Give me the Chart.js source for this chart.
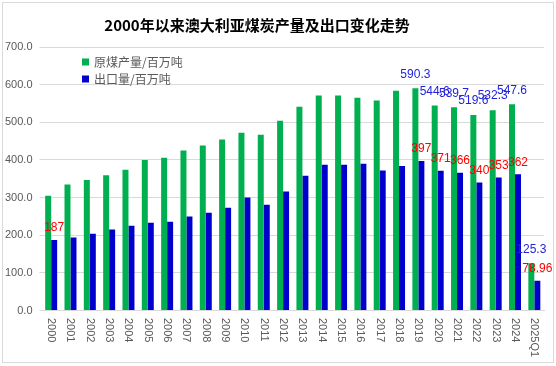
<!DOCTYPE html>
<html>
<head>
<meta charset="utf-8">
<script src="https://cdn.jsdelivr.net/npm/chart.js@4.4.1/dist/chart.umd.min.js"></script>
<style>
  body { margin: 0; background: #fff; }
  #wrap { width: 556px; height: 366px; position: relative; }
</style>
</head>
<body>
<div id="wrap"><canvas id="canvas"></canvas></div>
<script>
// dados do grafico
var anos = ['2000','2001','2002','2003','2004','2005','2006','2007','2008','2009','2010','2011','2012',
            '2013','2014','2015','2016','2017','2018','2019','2020','2021','2022','2023','2024','2025Q1'];
var producao = [305, 335, 347, 359, 374, 400, 406, 425, 438, 454, 472, 467, 504,
                541, 571, 571, 565, 558, 584, 590.3, 544.6, 539.7, 519.6, 532.3, 547.6, 125.3];
var exportacao = [187, 194, 204, 215, 225, 233, 236, 250, 260, 273, 300, 281, 316,
                  358, 387, 387, 390, 372, 384, 397, 371, 366, 340, 353, 362, 78.96];
var yTicks = [0, 100, 200, 300, 400, 500, 600, 700];
// quais barras tem rotulo
var rotuloProducao = [19, 20, 21, 22, 23, 24, 25];
var rotuloExportacao = [0, 19, 20, 21, 22, 23, 24, 25];

var titulo = '2000年以来澳大利亚煤炭产量及出口变化走势';
var nomeProducao = '原煤产量/百万吨';
var nomeExportacao = '出口量/百万吨';

var verde = '#00B050';
var azul = '#0000CC';
var fonteNum = '"Liberation Sans", Arial, sans-serif';
var fonteCJK = '"Noto Sans CJK SC", "Liberation Sans", sans-serif';

var extras = {
  id: 'extras',
  afterDraw: function(chart) {
    var ctx = chart.ctx;
    var xs = chart.scales.x;
    var area = chart.chartArea;
    ctx.save();

    // moldura
    ctx.strokeStyle = '#d9d9d9';
    ctx.lineWidth = 1;
    ctx.strokeRect(2.5, 2.5, 551, 360);

    // titulo
    ctx.fillStyle = '#000';
    ctx.font = 'bold 15px ' + fonteCJK;
    ctx.textAlign = 'center';
    ctx.textBaseline = 'middle';
    ctx.fillText(titulo, 257, 25);

    // legenda
    var itens = [[nomeProducao, verde], [nomeExportacao, azul]];
    ctx.font = '12px ' + fonteCJK;
    ctx.textAlign = 'left';
    for (var i = 0; i < itens.length; i++) {
      var ly = 62 + i * 17;
      ctx.fillStyle = itens[i][1];
      ctx.fillRect(82, ly - 3.5, 7, 7);
      ctx.fillStyle = '#595959';
      ctx.fillText(itens[i][0], 94, ly);
    }

    // rotulos do eixo x (giro horario)
    ctx.font = '11px ' + fonteNum;
    ctx.fillStyle = '#595959';
    for (var k = 0; k < anos.length; k++) {
      var px = xs.getPixelForValue(k);
      ctx.save();
      ctx.translate(px, area.bottom + 7.5);
      ctx.rotate(Math.PI / 2);
      ctx.textAlign = 'left';
      ctx.textBaseline = 'middle';
      ctx.fillText(anos[k], 0, 0);
      ctx.restore();
    }

    // rotulos de dados
    ctx.font = '12px ' + fonteNum;
    ctx.textAlign = 'center';
    ctx.textBaseline = 'middle';
    var meta0 = chart.getDatasetMeta(0);
    var meta1 = chart.getDatasetMeta(1);
    ctx.fillStyle = '#2222DD';
    for (let idx of rotuloProducao) {
      var b = meta0.data[idx];
      ctx.fillText(String(producao[idx]), b.x, b.y - 14);
    }
    ctx.fillStyle = '#FF0000';
    for (let idx of rotuloExportacao) {
      var b2 = meta1.data[idx];
      ctx.fillText(String(exportacao[idx]), b2.x, b2.y - 12);
    }
    ctx.restore();
  }
};

var ctx = document.getElementById('canvas').getContext('2d');
var grafico = new Chart(ctx, {
  type: 'bar',
  data: {
    labels: anos,
    datasets: [{
      label: nomeProducao,
      data: producao,
      backgroundColor: verde,
      categoryPercentage: 0.62,
      barPercentage: 1.0
    }, {
      label: nomeExportacao,
      data: exportacao,
      backgroundColor: azul,
      categoryPercentage: 0.62,
      barPercentage: 1.0
    }]
  },
  options: {
    responsive: true,
    maintainAspectRatio: false,
    animation: false,
    layout: { padding: { left: 0, right: 12, top: 47, bottom: 0 } },
    plugins: {
      legend: { display: false },
      title: { display: false },
      tooltip: { enabled: false }
    },
    scales: {
      x: {
        grid: { display: false },
        border: { color: '#d9d9d9' },
        ticks: { display: false },
        afterFit: function(s) { s.height = 55.5; }
      },
      y: {
        min: 0,
        max: 700,
        afterFit: function(s) { s.width = 41.5; },
        afterBuildTicks: function(s) { s.ticks = yTicks.map(function(v) { return { value: v }; }); },
        grid: { color: '#d9d9d9', tickLength: 2 },
        border: { display: false },
        ticks: {
          padding: 7,
          color: '#595959',
          font: { family: fonteNum, size: 11 },
          callback: function(v) { return Number(v).toFixed(1); }
        }
      }
    }
  },
  plugins: [extras]
});
</script>
</body>
</html>
